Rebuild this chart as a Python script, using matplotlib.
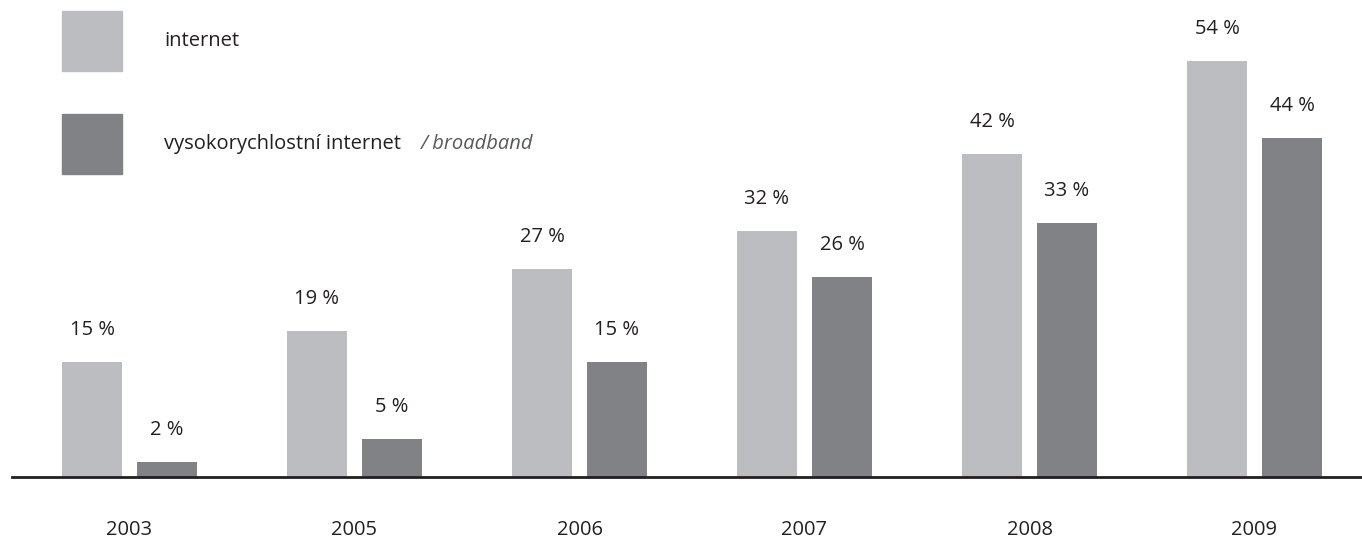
import matplotlib
matplotlib.use('Agg')
import matplotlib.pyplot as plt
from matplotlib.patches import Rectangle
import numpy as np

years = ['2003', '2005', '2006', '2007', '2008', '2009']
internet = [15, 19, 27, 32, 42, 54]
broadband = [2, 5, 15, 26, 33, 44]

light = '#bcbdc1'
dark = '#818286'
txt = '#231f20'
fs = 14.5

plt.rcParams['font.family'] = ['Open Sans', 'DejaVu Sans']

W, H = 1362, 538
fig = plt.figure(figsize=(W / 100, H / 100), dpi=100)
# axes: left edge at x=12px, baseline at y=477px, top at figure top
ax = fig.add_axes([12 / W, (H - 477) / H, 1 - 12 / W, 477 / H])

x = np.arange(len(years))
bw = 60 / 225
off = 37.5 / 225
b1 = ax.bar(x - off, internet, bw, color=light)
b2 = ax.bar(x + off, broadband, bw, color=dark)

for bars, vals in ((b1, internet), (b2, broadband)):
    for b, v in zip(bars, vals):
        ax.annotate(f'{v} %', (b.get_x() + b.get_width() / 2, v),
                    xytext=(0, 23), textcoords='offset points',
                    ha='center', va='center', fontsize=fs, color=txt)

ax.set_xlim((12 - 129.5) / 225, (1362 - 129.5) / 225)
ax.set_ylim(0, 477 / 7.7)
for s in ['top', 'right', 'left']:
    ax.spines[s].set_visible(False)
ax.spines['bottom'].set_linewidth(2)
ax.spines['bottom'].set_color('#231f20')
ax.set_yticks([])
ax.set_xticks(x)
ax.set_xticklabels(years, fontsize=fs, color=txt)
ax.tick_params(axis='x', length=0, pad=31)

# legend
fig.patches.append(Rectangle((62 / W, 1 - 71 / H), 60 / W, 60 / H,
                             transform=fig.transFigure, color=light))
fig.patches.append(Rectangle((62 / W, 1 - 174 / H), 60 / W, 60 / H,
                             transform=fig.transFigure, color=dark))
fig.text(164 / W, 1 - 41 / H, 'internet', fontsize=fs, color=txt, va='center')
t = fig.text(164 / W, 1 - 144 / H, 'vysokorychlostní internet', fontsize=fs,
             color=txt, va='center')
fig.canvas.draw()
bb = t.get_window_extent()
fig.text((bb.x1 + 20) / W, 1 - 144 / H, '/ broadband', fontsize=fs,
         color='#58595b', style='italic', va='center')

fig.savefig('out.png', dpi=100)
